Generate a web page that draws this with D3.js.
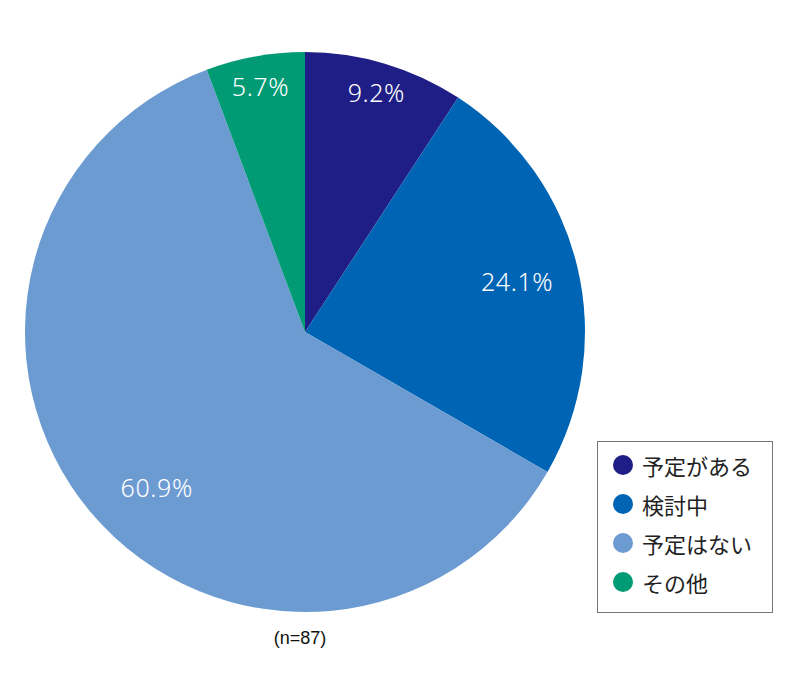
<!DOCTYPE html>
<html>
<head>
<meta charset="utf-8">
<script src="https://cdn.jsdelivr.net/npm/d3@7.9.0/dist/d3.min.js"></script>
<style>
  body { margin: 0; background: #fff; }
  svg { display: block; }
  .pct { font-family: "Noto Sans", "Liberation Sans", sans-serif; font-weight: 300; fill: #fff; }
  .leg { font-family: "Noto Sans CJK JP", sans-serif; font-weight: 400; fill: #222; }
</style>
</head>
<body>
<svg width="800" height="686"></svg>
<script>
const categories = ['予定がある', '検討中', '予定はない', 'その他'];
const values = [9.2, 24.1, 60.9, 5.7];
const colors = ['#1e1e86', '#0064b4', '#6c9bd2', '#009b74'];
const sampleNote = '(n=87)';

const svg = d3.select('svg');
const cx = 305, cy = 332, radius = 280;

let data = categories.map((c, i) => ({ label: c, value: values[i] }));

let pie = d3.pie().value(d => d.value).sort(null);
let arcs = pie(data);
let arc = d3.arc().innerRadius(0).outerRadius(radius);
// small slices get labels nearer the rim
let farLabel = d3.arc().innerRadius(250).outerRadius(250);
let nearLabel = d3.arc().innerRadius(218).outerRadius(218);
let color = d3.scaleOrdinal().domain(categories).range(colors);

let g = svg.append('g').attr('transform', `translate(${cx},${cy})`);

g.selectAll('path')
  .data(arcs)
  .join('path')
  .attr('d', arc)
  .attr('fill', d => color(d.data.label));

g.selectAll('text')
  .data(arcs)
  .join('text')
  .attr('class', 'pct')
  .attr('transform', d => {
    let p = d.data.value < 10 ? farLabel.centroid(d) : nearLabel.centroid(d);
    // the big slice's label sits a bit closer to the centre line
    if (d.data.value > 50) p = [p[0] + 18, p[1] + 14];
    return `translate(${p})`;
  })
  .attr('text-anchor', 'middle')
  .attr('dominant-baseline', 'central')
  .attr('font-size', 25)
  .attr('letter-spacing', 0.6)
  .text(d => d.data.value.toFixed(1) + '%');

svg.append('text')
  .attr('x', 300)
  .attr('y', 644)
  .attr('text-anchor', 'middle')
  .attr('font-family', '"Liberation Sans", sans-serif')
  .attr('font-size', 18)
  .attr('fill', '#111')
  .text(sampleNote);

// legend
let legend = svg.append('g').attr('transform', 'translate(597,441)');
legend.append('rect')
  .attr('x', 0.5).attr('y', 0.5)
  .attr('width', 175).attr('height', 171)
  .attr('fill', '#fff')
  .attr('stroke', '#777')
  .attr('stroke-width', 1);

let rowY = d3.scalePoint().domain(categories).range([24, 141]);

let items = legend.selectAll('g.item')
  .data(categories)
  .join('g')
  .attr('class', 'item')
  .attr('transform', d => `translate(0,${rowY(d)})`);

items.append('circle')
  .attr('cx', 26).attr('cy', 0).attr('r', 10)
  .attr('fill', d => color(d));

items.append('text')
  .attr('class', 'leg')
  .attr('x', 45)
  .attr('y', 0)
  .attr('dominant-baseline', 'central')
  .attr('font-size', 22)
  .text(d => d);
</script>
</body>
</html>
